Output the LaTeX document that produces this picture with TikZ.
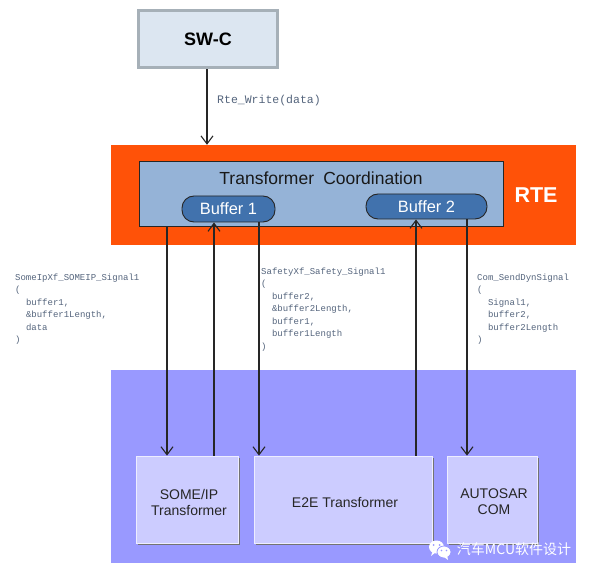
\documentclass[tikz,border=0pt]{standalone}
\usepackage{fontspec}
\setmainfont{Liberation Sans}
\setmonofont{Liberation Mono}
\newfontfamily\cjkfont{Noto Sans CJK SC}
\usepackage{xcolor}
\usetikzlibrary{arrows.meta}

\definecolor{swcfill}{HTML}{DCE6F1}
\definecolor{swcline}{HTML}{A6B0B8}
\definecolor{rteband}{HTML}{FF5208}
\definecolor{coordfill}{HTML}{95B3D7}
\definecolor{bufferfill}{HTML}{4172AD}
\definecolor{xfband}{HTML}{9999FF}
\definecolor{xffill}{HTML}{CCCCFF}
\definecolor{apitext}{HTML}{54647C}

\begin{document}
\begin{tikzpicture}[
    x=1pt, y=-1pt,
    >={Straight Barb[length=8pt,width=12pt]},
    band/.style={inner sep=0pt, draw=none},
    buffer/.style={rounded corners=12pt, draw=black!85, line width=0.9pt, fill=bufferfill,
      text=white, font=\fontsize{16.4}{16.4}\selectfont, inner sep=0pt},
    xfbox/.style={fill=xffill, draw=white!65!xffill, line width=0.7pt, inner sep=0pt,
      minimum height=87pt,
      preaction={draw=none, fill=black!55, transform canvas={xshift=1.8pt, yshift=-1.8pt}}},
    xftext/.style={inner sep=0pt, align=center, text=black!85, font=\fontsize{14}{16}\selectfont},
    api/.style={anchor=north west, align=left, inner sep=0pt, text=apitext,
      font=\fontsize{9}{12.5}\selectfont\ttfamily},
    link/.style={line width=1.1pt, draw=black!85},
  ]
  \useasboundingbox (0,0) rectangle (590,575);

  %% ---- bands ---------------------------------------------------------
  \node[band, fill=rteband, minimum width=465pt, minimum height=100pt] (rte) at (343.5,195) {};
  \node[band, fill=xfband, minimum width=465pt, minimum height=193pt] (xflayer) at (343.5,466.5) {};
  \node[font=\bfseries\fontsize{21.5}{21.5}\selectfont, text=white, inner sep=0pt] (rtelabel) at (536,195) {RTE};

  %% ---- SW-C ----------------------------------------------------------
  \node[draw=swcline, line width=3pt, fill=swcfill, inner sep=0pt, minimum width=139pt, minimum height=57pt,
    font=\bfseries\fontsize{18}{18}\selectfont] (swc) at (208,39.5) {SW-C};

  %% ---- coordination --------------------------------------------------
  \node[draw=black!85, line width=0.9pt, fill=coordfill, inner sep=0pt,
    minimum width=364pt, minimum height=65pt] (coord) at (321,193.5) {};
  \node[font=\fontsize{17.5}{17.5}\selectfont, inner sep=0pt, text=black!90] (coordtitle) at (321,178) {Transformer\hspace{0.25em} Coordination};
  \node[buffer, minimum width=93pt, minimum height=26pt] (buffera) at (228.5,209) {Buffer 1};
  \node[buffer, minimum width=121pt, minimum height=25pt] (bufferb) at (426.5,206.5) {Buffer 2};

  %% ---- transformers --------------------------------------------------
  \node[xfbox, minimum width=102pt] (someip) at (187,499.5) {};
  \node[xfbox, minimum width=178pt] (etoe) at (343,499.5) {};
  \node[xfbox, minimum width=90pt] (com) at (492,499.5) {};
  \node[xftext] (someiplabel) at (189,502) {SOME/IP\\Transformer};
  \node[xftext] (etoelabel) at (345,502.5) {E2E Transformer};
  \node[xftext] (comlabel) at (494,502) {AUTOSAR\\COM};

  %% ---- connectors ----------------------------------------------------
  \coordinate (pw) at (207,0);
  \coordinate (pa) at (167,0);
  \coordinate (pb) at (214,0);
  \coordinate (pc) at (259,0);
  \coordinate (pd) at (416,0);
  \coordinate (pe) at (467,0);
  \draw[link,->] (swc.south -| pw) -- (rte.north -| pw);
  \draw[link,->] (coord.south -| pa) -- (someip.north -| pa);
  \draw[link,->] (someip.north -| pb) -- (buffera.south -| pb);
  \draw[link,->] (buffera.south -| pc) -- (etoe.north -| pc);
  \draw[link,->] (etoe.north -| pd) -- (bufferb.south -| pd);
  \draw[link,->] (bufferb.south -| pe) -- (com.north -| pe);

  %% ---- API calls -----------------------------------------------------
  \node[api, font=\fontsize{11.5}{12.5}\selectfont\ttfamily] (writecall) at (217,95) {Rte\_Write(data)};
  \node[api] (someipcall) at (15,273.5) {SomeIpXf\_SOMEIP\_Signal1\\(\\\ \ buffer1,\\\ \ \&buffer1Length,\\\ \ data\\)};
  \node[api] (safetycall) at (261,267.5) {SafetyXf\_Safety\_Signal1\\(\\\ \ buffer2,\\\ \ \&buffer2Length,\\\ \ buffer1,\\\ \ buffer1Length\\)};
  \node[api] (comcall) at (477,273.5) {Com\_SendDynSignal\\(\\\ \ Signal1,\\\ \ buffer2,\\\ \ buffer2Length\\)};

  %% ---- watermark -----------------------------------------------------
  \fill[white] (436.5,547) ellipse (7.5pt and 6.5pt);
  \fill[white] (431,556) -- (433,550) -- (436,552) -- cycle;
  \draw[xfband, fill=white, line width=0.8pt] (444,552) ellipse (7pt and 6pt);
  \fill[white] (448,560) -- (447,555) -- (444,557) -- cycle;
  \fill[xfband] (433.5,545) circle (1pt) (439.5,545) circle (1pt) (441.5,550.5) circle (0.8pt) (446.5,550.5) circle (0.8pt);
  \node[text=white, inner sep=0pt, font=\cjkfont\fontsize{14}{14}\selectfont] (mark) at (514,549) {汽车MCU软件设计};
\end{tikzpicture}
\end{document}
